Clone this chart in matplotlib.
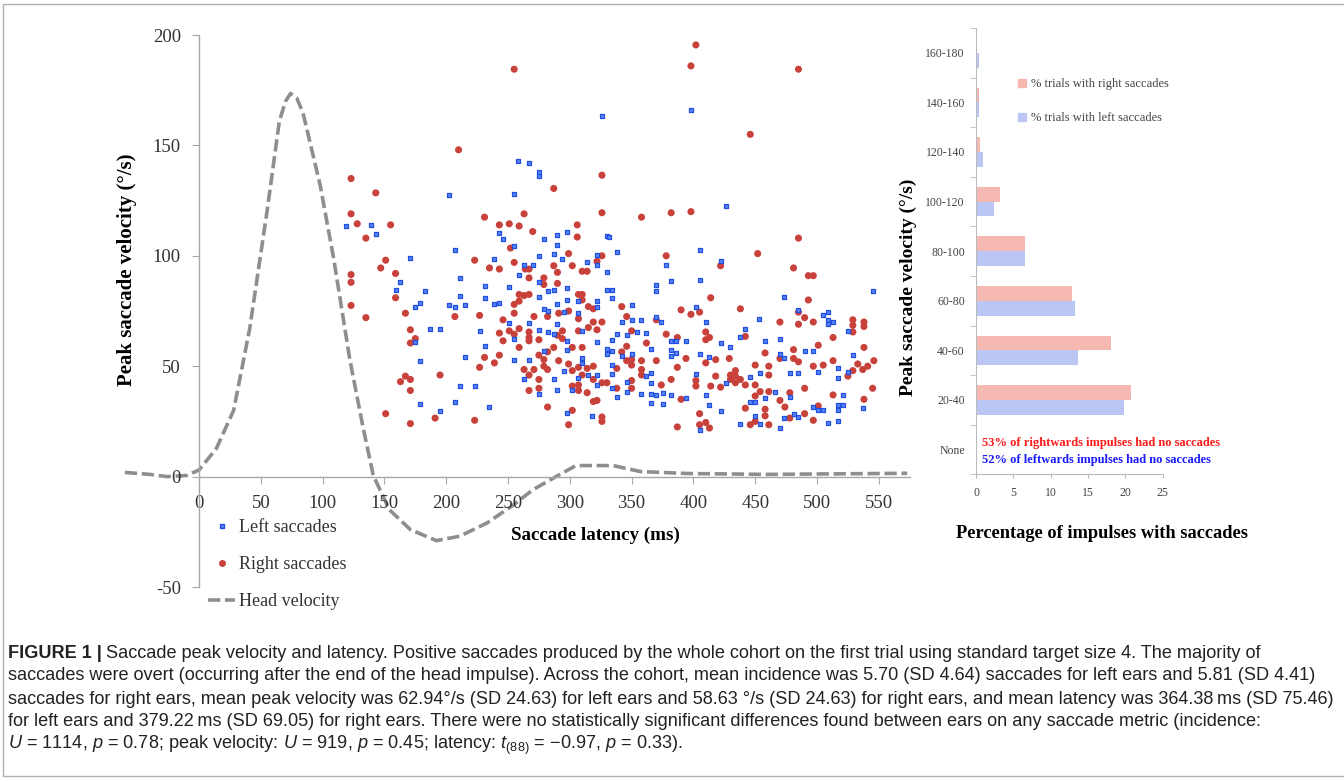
import matplotlib
matplotlib.use("Agg")
import matplotlib.pyplot as plt
from matplotlib.patches import Patch, Rectangle
from matplotlib.lines import Line2D

plt.rcParams['font.family'] = ['Liberation Serif', 'DejaVu Serif']
plt.rcParams['axes.unicode_minus'] = False
plt.rcParams['mathtext.fontset'] = 'custom'
plt.rcParams['mathtext.rm'] = 'Liberation Sans'
plt.rcParams['mathtext.it'] = 'Liberation Sans:italic'

# ---- data ----
# left saccades (latency ms, peak velocity deg/s)
left_sacc = [
    (119, 113.5), (139, 114), (143, 110), (202, 127.5),
    (326, 163.5), (258, 143), (267, 142), (275, 138), (275, 136), (255, 128), (243, 110.5),
    (246, 107.5), (279, 107.5), (290, 109.5), (298, 111), (330, 109),
    (398, 166), (426, 122.5), (332, 108.5),
    (171, 99), (163, 88), (159, 84.5), (183, 84), (179, 78.5), (175, 77), (202, 77.5), (207, 77),
    (207, 102.5), (187, 67), (195, 67), (175, 61), (179, 52.5), (179, 33), (195, 29.5), (207, 34),
    (211, 41), (211, 90), (211, 82),
    (239, 98.5), (275, 100), (287, 101), (290, 105), (255, 104.5), (263, 96), (270, 96), (259, 91.5),
    (294, 98.5), (314, 97), (322, 96), (322, 100.5), (330, 92.5), (275, 88), (282, 84), (287, 84.5),
    (298, 85.5), (298, 80), (307, 79.5), (322, 79.5), (322, 77), (330, 84.5), (231, 86.5), (231, 81),
    (251, 86), (239, 78), (243, 78.5), (275, 81.5), (290, 78), (279, 76), (282, 75), (295, 74.5),
    (307, 74), (215, 77.5), (251, 69.5), (267, 69.5), (275, 66.5), (282, 65.5), (287, 64.5), (290, 69),
    (298, 61.5), (298, 57.5), (310, 66), (227, 66), (255, 62.5), (231, 59), (215, 54), (255, 53),
    (267, 53), (279, 57), (310, 53.5), (310, 51.5), (330, 58), (330, 55.5), (322, 61), (263, 44),
    (287, 44), (295, 48), (307, 44.5), (315, 46), (322, 46), (322, 41.5), (290, 39), (302, 39),
    (275, 37.5), (223, 41), (235, 31.5), (298, 29), (318, 27.5),
    (338, 101.5), (405, 102.5), (378, 96), (422, 97.5), (382, 88.5), (405, 89), (370, 87), (370, 84),
    (334, 84.5), (334, 81), (350, 77.5), (402, 77), (370, 72.5), (350, 71), (342, 70), (358, 71),
    (374, 70), (410, 70), (442, 67), (438, 63), (338, 64.5), (346, 64), (354, 65.5), (362, 65),
    (334, 62), (382, 61.5), (386, 61.5), (394, 61.5), (382, 57.5), (386, 56), (382, 54.5), (366, 58),
    (334, 57), (342, 54.5), (350, 55.5), (405, 55.5), (422, 60.5), (430, 58.5), (413, 54), (334, 50.5),
    (334, 46.5), (366, 47), (362, 45.5), (402, 46.5), (426, 42.5), (446, 45), (346, 43), (366, 42.5),
    (334, 40), (338, 36), (346, 38.5), (358, 37.5), (366, 37.5), (370, 37), (375, 38), (382, 37),
    (394, 35.5), (366, 33.5), (375, 33), (410, 37), (413, 32.5), (422, 29.5), (446, 34), (450, 34),
    (450, 27.5), (438, 24), (405, 21), (453, 71.5),
    (473, 81.5), (545, 84), (485, 75.5), (505, 73), (509, 74.5), (509, 71), (513, 70), (509, 69),
    (525, 66), (458, 61.5), (470, 62.5), (490, 57), (497, 57), (470, 55.5), (473, 53.5), (529, 55),
    (517, 49), (525, 47.5), (517, 44.5), (501, 47.5), (485, 47), (478, 47), (454, 47), (466, 38.5),
    (458, 35.5), (478, 36), (521, 37), (517, 32.5), (521, 32.5), (517, 30), (497, 31.5), (501, 30),
    (505, 30), (537, 31), (473, 26.5), (481, 28.5), (485, 27), (509, 24.5), (517, 25), (470, 22),
    (454, 24),
]

# right saccades (latency ms, peak velocity deg/s)
right_sacc = [
    (123, 135), (143, 128.5), (123, 119), (128, 114.5), (155, 114), (135, 108), (210, 148),
    (255, 184.5), (287, 130.5), (326, 136.5), (326, 119.5), (231, 117.5), (263, 119), (243, 114),
    (251, 114.5), (259, 113.5), (270, 111), (306, 114), (306, 108.5),
    (402, 195.5), (398, 186), (446, 155), (358, 117.5), (382, 119.5), (398, 120),
    (485, 184.5), (485, 108),
    (151, 98), (147, 94.5), (123, 91.5), (123, 88), (159, 92), (159, 81), (123, 77.5), (135, 72),
    (167, 74), (171, 66.5), (175, 62.5), (171, 60.5), (207, 72.5), (163, 43), (167, 45.5), (171, 44),
    (171, 39), (195, 46), (151, 28.5), (171, 24), (191, 26.5),
    (223, 98), (235, 94.5), (243, 94), (255, 97), (252, 103.5), (264, 94), (267, 94), (267, 90),
    (279, 90), (279, 87), (287, 95.5), (290, 92.5), (290, 87.5), (299, 101), (302, 95.5), (310, 93),
    (314, 93), (322, 97.5), (326, 100), (259, 82.5), (263, 82), (267, 82.5), (259, 79.5), (255, 78),
    (255, 74), (227, 73), (246, 71), (271, 72.5), (282, 72.5), (291, 74), (299, 75), (310, 82.5),
    (307, 82.5), (310, 80), (315, 77), (319, 76), (307, 71.5), (319, 70), (326, 70), (315, 67.5),
    (322, 66.5), (307, 66), (243, 65), (251, 66), (255, 64.5), (259, 67), (246, 61.5), (267, 65.5),
    (267, 63), (267, 61.5), (275, 62), (294, 66), (290, 64), (294, 62.5), (259, 58.5), (287, 58.5),
    (282, 56.5), (302, 58.5), (310, 58.5), (243, 55), (231, 54), (239, 51.5), (227, 49.5), (275, 55),
    (279, 53), (291, 52.5), (299, 51), (279, 50), (282, 48.5), (263, 48.5), (271, 48.5), (267, 46),
    (302, 48), (307, 49.5), (314, 49), (319, 50), (310, 46), (319, 44), (275, 44), (267, 39),
    (275, 40), (302, 41), (307, 41.5), (307, 39), (314, 38), (326, 42.5), (330, 42.5), (319, 34),
    (322, 34.5), (282, 31.5), (302, 30), (223, 25.5), (299, 23.5), (326, 27), (326, 25),
    (378, 100), (422, 95.5), (452, 101), (414, 81), (438, 76), (390, 75.5), (398, 73.5), (405, 74.5),
    (342, 77), (346, 72.5), (370, 71), (410, 65.5), (410, 62), (413, 63), (442, 63.5), (378, 64.5),
    (387, 63), (350, 66), (362, 60.5), (346, 59), (342, 56.5), (350, 53), (346, 52.5), (350, 50.5),
    (358, 52.5), (370, 52.5), (394, 53.5), (410, 51.5), (418, 53), (429, 53.5), (387, 49.5), (358, 48.5),
    (358, 46), (338, 49), (450, 50.5), (418, 45.5), (430, 46), (434, 48), (434, 45.5), (438, 44),
    (430, 44), (434, 42.5), (450, 41.5), (442, 41.5), (402, 43.5), (402, 41), (422, 40.5), (414, 41),
    (382, 44), (374, 41.5), (350, 43.5), (350, 40), (338, 40), (390, 35), (442, 31), (450, 36.5),
    (405, 28.5), (405, 23.5), (410, 24.5), (413, 22), (387, 22.5), (450, 25), (446, 23.5),
    (481, 94.5), (493, 91), (497, 91), (493, 80), (485, 74.5), (490, 72), (485, 69), (470, 70),
    (497, 70), (529, 71), (538, 70), (529, 68.5), (538, 68), (529, 65.5), (513, 63), (501, 59.5),
    (538, 58.5), (458, 56), (481, 57.5), (470, 53.5), (481, 53.5), (485, 52), (513, 52.5), (533, 51),
    (546, 52.5), (541, 50), (537, 48.5), (529, 48), (497, 50), (505, 50.5), (461, 50), (461, 46),
    (525, 45.5), (490, 40), (454, 38.5), (461, 38.5), (478, 38), (513, 37), (545, 40), (538, 35),
    (470, 34.5), (458, 30.5), (474, 31.5), (501, 32), (458, 27.5), (490, 28.5), (478, 26.5), (497, 25.5),
    (461, 23.5),
]

# head velocity trace
head_t = [-60, -40, -26, -10, 0, 14, 28, 41, 55, 65, 70, 74, 79, 84, 98, 109, 122, 133, 141,
          154, 171, 192, 211, 233, 254, 270, 292, 305, 335, 357, 395, 459, 573]
head_v = [1.9, 1.0, 0, 0.5, 3, 12.7, 30, 67, 120, 161, 170, 173.5, 171.5, 165, 132, 98.6, 53, 21.5, 0.5,
          -15, -24, -29, -27, -21, -13, -6, 1, 5, 5, 2.3, 1.4, 1, 1.5]

# histogram panel
vel_bins = ['None', '20-40', '40-60', '60-80', '80-100', '100-120', '120-140', '140-160', '160-180']
pct_right = [0, 20.7, 18.1, 12.8, 6.5, 3.2, 0.6, 0.45, 0]
pct_left = [0, 19.8, 13.6, 13.2, 6.5, 2.45, 1.0, 0.45, 0.36]

caption_lines = [
    "Saccade peak velocity and latency. Positive saccades produced by the whole cohort on the first trial using standard target size 4. The majority of",
    "saccades were overt (occurring after the end of the head impulse). Across the cohort, mean incidence was 5.70 (SD 4.64) saccades for left ears and 5.81 (SD 4.41)",
    "saccades for right ears, mean peak velocity was 62.94\u00b0/s (SD 24.63) for left ears and 58.63 \u00b0/s (SD 24.63) for right ears, and mean latency was 364.38\u2009ms (SD 75.46)",
    "for left ears and 379.22\u2009ms (SD 69.05) for right ears. There were no statistically significant differences found between ears on any saccade metric (incidence:",
    "$U$ = 1114, $p$ = 0.78; peak velocity: $U$ = 919, $p$ = 0.45; latency: $t_{(88)}$ = \u22120.97, $p$ = 0.33).",
]

W, H = 1344, 781
fig = plt.figure(figsize=(W / 100, H / 100), dpi=100)

# ---- scatter panel ----
ax = fig.add_axes([122.4 / W, 1 - 587 / H, 787.3 / W, 552 / H])
ax.set_xlim(-62, 575)
ax.set_ylim(-50, 200)

hv, = ax.plot(head_t, head_v, color='#8e8e8e', lw=2.6, ls=(0, (3.4, 1.3)), zorder=1)
lx = [p[0] for p in left_sacc]
ly = [p[1] for p in left_sacc]
rx = [p[0] for p in right_sacc]
ry = [p[1] for p in right_sacc]
sl = ax.scatter(lx, ly, marker='s', s=12, facecolor='#5d86f2', edgecolor='#1f4fe3', linewidth=0.9, zorder=3)
sr = ax.scatter(rx, ry, marker='o', s=26, facecolor='#c9413b', edgecolor='none', zorder=2)

for s in ['top', 'right']:
    ax.spines[s].set_visible(False)
ax.spines['left'].set_position(('data', 0))
ax.spines['bottom'].set_position(('data', 0))
ax.spines['bottom'].set_bounds(0, 575)
for s in ['left', 'bottom']:
    ax.spines[s].set_color('#a8a8a8')
    ax.spines[s].set_linewidth(1.0)
ax.set_xticks(range(0, 551, 50))
ax.set_yticks(range(-50, 201, 50))
ax.tick_params(axis='both', colors='#a8a8a8', labelcolor='#333333', labelsize=13.5, length=5)
ax.tick_params(axis='x', pad=8)
ax.tick_params(axis='y', pad=8)

fig.text(127 / W, 1 - 270 / H, 'Peak saccade velocity (\u00b0/s)', rotation=90, fontsize=15,
         fontweight='bold', ha='center', va='center')
fig.text(595 / W, 1 - 535 / H, 'Saccade latency (ms)', fontsize=13.7, fontweight='bold',
         ha='center', va='center')

leg_handles = [
    Line2D([], [], marker='s', ls='none', markersize=3.5, markerfacecolor='#5d86f2', markeredgecolor='#1f4fe3'),
    Line2D([], [], marker='o', ls='none', markersize=5, markerfacecolor='#c9413b', markeredgecolor='none'),
    Line2D([], [], color='#8e8e8e', lw=2.6, ls=(0, (3.4, 1.3))),
]
fig.legend(leg_handles, ['Left saccades', 'Right saccades', 'Head velocity'],
           loc='upper left', bbox_to_anchor=(192 / W, 1 - 503 / H), frameon=False,
           fontsize=13, handlelength=1.5, handletextpad=0.2, labelspacing=1.1,
           labelcolor='#333333')

# ---- histogram panel ----
bx = fig.add_axes([976 / W, 1 - 474.4 / H, 186.7 / W, 446.4 / H])
pos = list(range(len(vel_bins)))
bx.barh([p + 0.15 for p in pos], pct_right, height=0.3, color='#f5b9b1')
bx.barh([p - 0.15 for p in pos], pct_left, height=0.3, color='#bcc6f5')
bx.set_xlim(0, 25)
bx.set_ylim(-0.47, 8.5)
for s in ['top', 'right']:
    bx.spines[s].set_visible(False)
for s in ['left', 'bottom']:
    bx.spines[s].set_color('#bbbbbb')
bx.set_yticks(pos)
bx.set_yticklabels(vel_bins)
bx.set_yticks([p - 0.5 for p in pos] + [8.5], minor=True)
bx.tick_params(axis='y', which='major', length=0, pad=8, labelsize=8.5, labelcolor='#444444')
bx.tick_params(axis='y', which='minor', length=4, color='#bbbbbb')
bx.set_xticks(range(0, 26, 5))
bx.tick_params(axis='x', length=3, color='#bbbbbb', labelsize=8.5, labelcolor='#444444', pad=6)

bx.legend([Patch(color='#f5b9b1'), Patch(color='#bcc6f5')],
          ['% trials with right saccades', '% trials with left saccades'],
          loc='upper left', bbox_to_anchor=(1007 / W, 1 - 67 / H), bbox_transform=fig.transFigure,
          frameon=False, fontsize=9, handlelength=0.6, handleheight=0.6, handletextpad=0.4,
          labelspacing=1.75, labelcolor='#444444')

fig.text(982 / W, 1 - 443 / H, '53% of rightwards impulses had no saccades', color='#ff1a1a',
         fontsize=9, fontweight='bold', ha='left', va='center')
fig.text(982 / W, 1 - 460 / H, '52% of leftwards impulses had no saccades', color='#1a1aff',
         fontsize=9, fontweight='bold', ha='left', va='center')
fig.text(908 / W, 1 - 287 / H, 'Peak saccade velocity (\u00b0/s)', rotation=90, fontsize=14,
         fontweight='bold', ha='center', va='center')
fig.text(1102 / W, 1 - 533 / H, 'Percentage of impulses with saccades', fontsize=13.2,
         fontweight='bold', ha='center', va='center')

# ---- frame and caption ----
fig.patches.append(Rectangle((3 / W, 5 / H), 1.0, (H - 9) / H, transform=fig.transFigure,
                             fill=False, edgecolor='#b0b0b0', lw=1.0))

cap_font = dict(family=['Liberation Sans', 'DejaVu Sans'], fontsize=13.1, color='#222222', va='center')
renderer = fig.canvas.get_renderer()
t0 = fig.text(8 / W, 1 - 653 / H, 'FIGURE 1 |', fontweight='bold', **cap_font)
ext = t0.get_window_extent(renderer)
fig.text((ext.x1 + 4) / W, 1 - 653 / H, caption_lines[0], **cap_font)
for i, line in enumerate(caption_lines[1:], start=1):
    fig.text(8 / W, 1 - (653 + 23 * i) / H, line, **cap_font)

fig.savefig('out.png', dpi=100)
